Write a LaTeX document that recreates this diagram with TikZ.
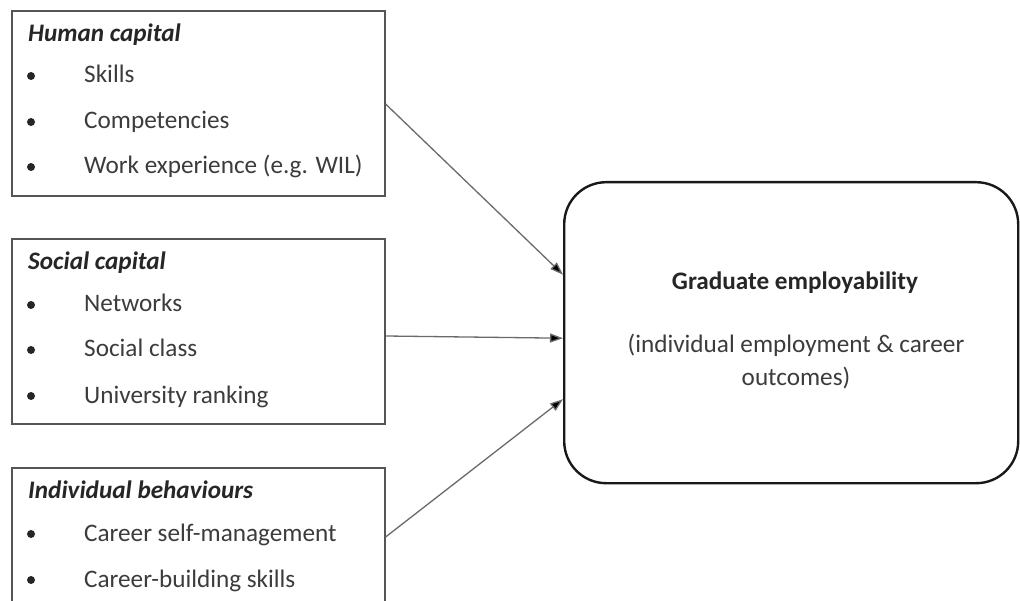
\documentclass[tikz,border=0pt]{standalone}
\usepackage{fontspec}
\setmainfont{Carlito}
\usetikzlibrary{arrows.meta}
\definecolor{inkgray}{HTML}{3C3C3C}
\definecolor{framegray}{HTML}{555555}
\definecolor{linegray}{HTML}{6A6A6A}
\begin{document}
\begin{tikzpicture}[x=1pt,y=-1pt,
  catbox/.style={draw=framegray,line width=1.6pt,rectangle,minimum width=373pt,anchor=north west,inner sep=0pt},
  head/.style={anchor=base west,inner sep=0pt,text=black!85,font=\fontsize{25.2}{29}\selectfont\bfseries\itshape},
  item/.style={anchor=base west,inner sep=0pt,text=inkgray,font=\fontsize{25.2}{29}\selectfont},
  dotmark/.style={circle,fill=black!85,inner sep=0pt,minimum size=8pt},
  link/.style={draw=linegray,line width=1.3pt,-{Triangle[length=13pt,width=9pt,fill=black]}},
  mid/.style={anchor=base,inner sep=0pt,text=inkgray,font=\fontsize{25.2}{29}\selectfont}
]
\useasboundingbox[fill=white] (0,0) rectangle (1020,601);
\clip (0,0) rectangle (1020,601);

% left-hand category boxes
\node[catbox,minimum height=185pt] (hc) at (11,10) {};
\node[catbox,minimum height=185pt] (sc) at (11,238) {};
\node[catbox,minimum height=160pt] (ib) at (11,467) {};

% outcome box
\node[draw=black!90,line width=2.4pt,rounded corners=42pt,minimum width=454pt,minimum height=301pt,anchor=north west,inner sep=0pt] (ge) at (563,181) {};

% Human capital
\node[head] (hct) at (28,42) {Human capital};
\node[dotmark] (hb1) at (31,76) {};
\node[item] (hi1) at (84,83) {Skills};
\node[dotmark] (hb2) at (31,122) {};
\node[item] (hi2) at (84,129) {Competencies};
\node[dotmark] (hb3) at (31,167) {};
\node[item] (hi3) at (84,174) {Work experience (e.g. WIL)};

% Social capital
\node[head] (sct) at (28,270) {Social capital};
\node[dotmark] (sb1) at (31,305) {};
\node[item] (si1) at (84,312) {Networks};
\node[dotmark] (sb2) at (31,350) {};
\node[item] (si2) at (84,357) {Social class};
\node[dotmark] (sb3) at (31,396) {};
\node[item] (si3) at (84,403) {University ranking};

% Individual behaviours
\node[head] (ibt) at (28,498) {Individual behaviours};
\node[dotmark] (ib1) at (31,534) {};
\node[item] (ii1) at (84,541) {Career self-management};
\node[dotmark] (ib2) at (31,580) {};
\node[item] (ii2) at (84,587) {Career-building skills};

% outcome text
\node[mid,font=\fontsize{25.2}{29}\selectfont\bfseries,text=black!85] (get) at (795,290) {Graduate employability};
\node[mid] (geo1) at (796,353) {(individual employment \& career};
\node[mid] (geo2) at (796,385) {outcomes)};

% connectors
\draw[link] ([yshift=-94pt]hc.north east) -- ([yshift=58pt]ge.west);
\draw[link] ([yshift=-98pt]sc.north east) -- ([yshift=-5.5pt]ge.west);
\draw[link] ([yshift=-70pt]ib.north east) -- ([yshift=-66.5pt]ge.west);
\end{tikzpicture}
\end{document}
